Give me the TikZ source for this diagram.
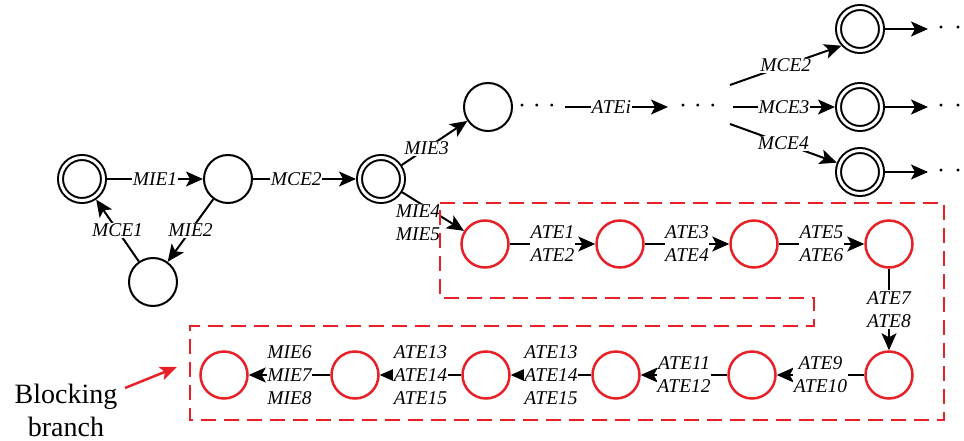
\documentclass[tikz,border=0pt]{standalone}
\usepackage{fontspec}
\setmainfont{Liberation Serif}
\usetikzlibrary{arrows.meta}
\definecolor{bred}{RGB}{232,32,40}
\begin{document}
\begin{tikzpicture}[x=1pt,y=-1pt,
 st/.style={circle,draw,line width=2pt,minimum size=48pt,inner sep=0pt},
 dst/.style={circle,draw,line width=2pt,double,double distance=3pt,minimum size=43pt,inner sep=0pt,outer sep=3.5pt},
 rst/.style={circle,draw=bred,line width=2.5pt,minimum size=47pt,inner sep=0pt},
 arr/.style={line width=2pt,-{Stealth[length=17pt,width=15pt,inset=4pt]}},
 lab/.style={fill=white,inner xsep=0.5pt,inner ysep=1pt,font=\fontsize{19.5}{23}\selectfont\itshape,align=center},
 dotsty/.style={inner sep=0pt,font=\fontsize{24}{26}\selectfont},
 redbox/.style={draw=bred,line width=2.5pt,dash pattern=on 15pt off 8pt},
 redarr/.style={draw=bred,line width=2.5pt,-{Stealth[length=17pt,width=14pt,inset=4pt]},bred}]
\useasboundingbox (0,0) rectangle (964,441);

% upper part
\node[dst] (A) at (82,179) {};
\node[st] (B) at (228,179) {};
\node[st] (C) at (153,282) {};
\node[dst] (D) at (381,179) {};
\node[st] (E) at (488,107) {};

\draw[arr] (A) -- node[lab]{MIE1} (B);
\draw[arr] (B) -- node[lab]{MIE2} (C);
\draw[arr] (C) -- node[lab]{MCE1} (A);
\draw[arr] (B) -- node[lab,pos=0.42]{MCE2} (D);
\draw[arr] (D) -- node[lab,pos=0.38]{MIE3} (E);

\node[dotsty] (d1) at (537,109) {·\hspace{7pt}·\hspace{7pt}·};
\coordinate (t1) at (565,107);
\coordinate (t2) at (668,107);
\draw[arr] (t1) -- node[lab,pos=0.45]{ATEi} (t2);
\node[dotsty] (d2) at (698,109) {·\hspace{7pt}·\hspace{7pt}·};

\coordinate (f1) at (730,85);
\coordinate (f2) at (733,107);
\coordinate (f3) at (730,124);
\node[dst] (G1) at (860,29) {};
\node[dst] (G2) at (860,107) {};
\node[dst] (G3) at (860,172) {};
\draw[arr] (f1) -- node[lab]{MCE2} (G1.222);
\draw[arr] (f2) -- node[lab]{MCE3} (G2);
\draw[arr] (f3) -- node[lab]{MCE4} (G3.158);

\coordinate (o1) at (928,29);
\coordinate (o2) at (928,107);
\coordinate (o3) at (928,172);
\draw[arr] (G1) -- (o1);
\draw[arr] (G2) -- (o2);
\draw[arr] (G3) -- (o3);
\node[dotsty,anchor=west] (e1) at (937,31) {·\hspace{9pt}·};
\node[dotsty,anchor=west] (e2) at (937,109) {·\hspace{9pt}·};
\node[dotsty,anchor=west] (e3) at (937,174) {·\hspace{9pt}·};

% red branch
\node[rst] (R1) at (485,244) {};
\node[rst] (R2) at (620,244) {};
\node[rst] (R3) at (754,244) {};
\node[rst] (R4) at (889,244) {};
\node[rst] (R5) at (224,375) {};
\node[rst] (R6) at (355,375) {};
\node[rst] (R7) at (486,375) {};
\node[rst] (R8) at (616,375) {};
\node[rst] (R9) at (752,375) {};
\node[rst] (R10) at (889,375) {};

\draw[arr] (D) -- (R1);
\node[lab] (m45) at (418,223) {MIE4\\MIE5};

\draw[arr] (R1) -- node[lab]{ATE1\\ATE2} (R2);
\draw[arr] (R2) -- node[lab]{ATE3\\ATE4} (R3);
\draw[arr] (R3) -- node[lab]{ATE5\\ATE6} (R4);
\draw[arr] (R4) -- node[lab]{ATE7\\ATE8} (R10);
\draw[arr] (R10) -- node[lab]{ATE9\\ATE10} (R9);
\draw[arr] (R9) -- node[lab]{ATE11\\ATE12} (R8);
\draw[arr] (R8) -- node[lab]{ATE13\\ATE14\\ATE15} (R7);
\draw[arr] (R7) -- node[lab]{ATE13\\ATE14\\ATE15} (R6);
\draw[arr] (R6) -- node[lab]{MIE6\\MIE7\\MIE8} (R5);

\draw[redbox] (440,203) -- (944,203) -- (944,420) -- (190,420) -- (190,326) -- (814,326) -- (814,298) -- (440,298) -- cycle;

\node[font=\fontsize{28}{33}\selectfont,align=center,inner sep=0pt] (bb) at (66,410) {Blocking\\branch};
\coordinate (ba) at (125,388);
\coordinate (bt) at (177,367);
\draw[redarr] (ba) -- (bt);
\end{tikzpicture}
\end{document}
